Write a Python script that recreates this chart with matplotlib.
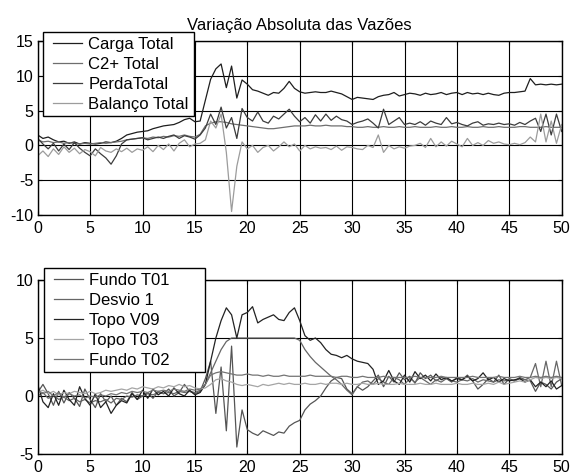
import numpy as np
import matplotlib
matplotlib.use("Agg")
import matplotlib.pyplot as plt
from matplotlib.legend_handler import HandlerLine2D
from matplotlib.lines import Line2D

plt.rcParams['font.family'] = ['Liberation Sans', 'DejaVu Sans']
plt.rcParams['axes.unicode_minus'] = False

# time axis (samples every 0.5)
t = np.arange(0, 50.5, 0.5)

# ---- top panel series ----
carga_total = [
    1.5, 1.0, 1.2, 0.8, 0.5, 0.6, 0.3, 0.5, 0.2, 0.4,
    0.3, 0.2, 0.3, 0.5, 0.4, 0.6, 1.0, 1.5, 1.7, 1.9,
    2.0, 2.1, 2.4, 2.6, 2.8, 2.9, 3.0, 3.3, 3.7, 3.9,
    3.4, 3.5, 6.5, 9.5, 11.0, 11.7, 8.3, 11.4, 6.8, 9.4,
    8.8, 8.0, 7.8, 7.5, 7.2, 7.6, 7.5, 8.2, 9.2, 8.2,
    7.7, 7.5, 7.6, 7.7, 7.6, 7.6, 7.8, 7.6, 7.4, 7.0,
    6.6, 6.9, 6.8, 6.7, 6.6, 7.0, 7.2, 7.3, 7.6, 7.1,
    7.3, 7.5, 7.4, 7.2, 7.5, 7.3, 7.4, 7.6, 7.3, 7.5,
    7.6, 7.3, 7.6, 7.4, 7.5, 7.3, 7.5, 7.3, 7.2, 7.5,
    7.6, 7.6, 7.7, 7.8, 9.6, 8.7, 8.8, 8.7, 8.8, 8.7,
    8.8]
c2_total = [
    0.8, 0.5, 0.6, 0.4, 0.5, 0.3, 0.4, 0.3, 0.2, 0.3,
    0.2, 0.3, 0.4, 0.3, 0.4, 0.5, 0.6, 0.8, 0.9, 1.0,
    1.1, 1.0, 1.2, 1.1, 1.3, 1.2, 1.4, 1.3, 1.5, 1.3,
    1.2, 1.6, 2.8, 3.2, 3.4, 3.4, 3.3, 3.1, 3.0, 2.9,
    2.8, 2.7, 2.6, 2.5, 2.4, 2.4, 2.5, 2.6, 2.7, 2.8,
    2.8, 2.8, 2.9, 2.8, 2.8, 2.9, 2.8, 2.8, 2.8, 2.7,
    2.7, 2.6, 2.6, 2.7, 2.6, 2.6, 2.7, 2.6, 2.6, 2.7,
    2.6, 2.6, 2.7, 2.6, 2.6, 2.6, 2.7, 2.6, 2.6, 2.7,
    2.6, 2.6, 2.7, 2.6, 2.6, 2.7, 2.6, 2.6, 2.7, 2.6,
    2.6, 2.6, 2.7, 2.7, 2.6, 2.6, 2.6, 2.7, 2.6, 2.6,
    2.6]
perda_total = [
    1.0, 0.2, -0.5, 0.3, -0.8, 0.2, -0.6, 0.4, -0.4, -1.0,
    -1.5, -0.5, -1.2, -1.8, -2.7, -1.5, 0.2, 0.8, 0.9, 1.0,
    1.1, 0.8, 1.0, 1.2, 1.0, 1.3, 1.5, 1.0, 1.4, 1.2,
    0.9, 1.5, 2.5, 4.5, 3.0, 5.5, 2.5, 4.0, 1.0, 5.3,
    4.0, 3.5, 4.8, 3.5, 3.2, 4.2, 3.8, 4.5, 5.2, 4.2,
    3.4, 4.0, 3.2, 4.4, 3.5, 4.5, 3.6, 4.2, 3.7, 3.5,
    3.0, 3.3, 3.5, 3.8, 3.2, 2.5, 5.2, 3.0, 3.5, 4.0,
    3.0, 3.2, 3.0, 3.4, 2.9, 3.5, 3.2, 3.0, 4.0, 3.1,
    3.3, 3.0, 2.8, 3.2, 3.4, 2.9, 3.1, 3.0, 3.2, 3.0,
    3.1, 2.9, 3.3, 3.0, 3.5, 3.9, 2.0, 4.5, 1.5, 4.5,
    2.0]
balanco_total = [
    -1.5, -0.8, -1.6, -0.5, -1.3, -0.2, -1.0, -0.4, -1.2, -0.6,
    -0.9, -1.5, -0.3, -0.8, -1.0, -0.5, -0.9, -0.4, -1.0, -0.5,
    -0.7, -0.2, -0.9, 0.0, -0.6, 0.2, -0.8, 0.3, 0.8, -0.2,
    0.2, 0.3, 0.8, 3.5, 2.5, 4.5, -1.0, -9.5, -3.0, 0.5,
    -0.5, 0.0, -1.0, -0.3, 0.0, -0.8, -0.2, 0.5, -0.2, 0.2,
    -0.8, 0.0, -0.5, -0.2, -0.4, -0.3, -0.6, -0.1, -0.7, -0.2,
    -0.3, -0.5, -0.6, 0.0, -0.3, 1.5, -1.0, 0.0, -0.5, -0.2,
    -0.4, -0.1, 0.0, 0.3, -0.3, 1.0, -0.2, 0.5, -0.1, 0.6,
    0.2, -0.2, 1.0, 0.0, 0.4, 0.0, 0.7, 0.3, 0.5, 0.2,
    0.1, 0.3, 0.1, 0.4, 1.2, 0.5, 4.5, 0.5, 3.5, 0.3,
    3.0]

# ---- bottom panel series ----
fundo_t01 = [
    0.3, 1.0, 0.2, -0.8, 0.4, -0.6, 0.3, -0.2, -0.9, 0.6,
    -0.3, -1.0, 0.2, -0.5, 0.0, -0.8, -0.2, -0.5, 0.3, -0.3,
    0.0, 0.3, -0.2, 0.4, 0.2, 0.6, 0.0, 0.3, 1.0, 0.4,
    0.2, 0.4, 1.5, 3.0, -1.5, 2.5, -3.0, 4.3, -4.4, -1.2,
    -2.9, -3.2, -3.4, -3.0, -3.2, -3.4, -3.1, -3.2, -2.6, -2.3,
    -2.1, -1.2, -0.7, -0.4, 0.0, 0.7, 1.3, 1.6, 1.5, 0.6,
    0.2, 0.8, 0.5, 0.8, 1.3, 1.8, 0.8, 1.7, 1.2, 2.0,
    1.4, 1.7, 1.1, 2.0, 1.5, 1.8, 1.3, 1.6, 1.5, 1.2,
    1.6, 1.4, 1.8, 1.3, 0.6, 1.0, 1.5, 1.2, 1.8, 1.0,
    1.5, 1.3, 1.6, 1.4, 1.3, 0.4, 1.2, 1.0, 0.6, 1.2,
    1.5]
desvio_1 = [
    0.0, 0.3, -0.2, 0.1, -0.3, -0.1, -0.4, -0.2, -0.5, -0.3,
    -0.6, -0.4, -0.5, -0.3, -0.6, -0.2, -0.3, 0.0, -0.1, 0.1,
    0.0, 0.2, 0.1, 0.3, 0.2, 0.3, 0.2, 0.4, 0.3, 0.4,
    0.3, 0.5, 1.0, 2.0, 3.0, 4.0, 4.7, 5.0, 5.0, 5.0,
    5.0, 5.0, 5.0, 5.0, 5.0, 5.0, 5.0, 5.0, 5.0, 5.0,
    4.8, 4.0, 3.4, 2.9, 2.5, 2.1, 1.7, 1.4, 1.0, 0.5,
    0.1, 0.8, 1.2, 1.3, 1.0, 1.5, 1.2, 1.0, 1.6, 1.4,
    1.0, 1.5, 1.2, 1.6, 1.3, 1.0, 1.4, 1.2, 1.5, 1.3,
    1.2, 1.4, 1.3, 1.5, 1.2, 1.4, 1.3, 1.2, 1.4, 1.3,
    1.4, 1.3, 1.5, 1.4, 1.6, 2.8, 0.8, 3.0, 0.8, 3.0,
    0.9]
topo_v09 = [
    1.0, -0.5, -1.0, 0.2, -0.8, 0.5, -0.3, -0.8, 0.8, -0.2,
    -0.8, 0.2, -1.0, -0.5, -1.5, -0.8, -0.4, -0.6, 0.2, -0.3,
    0.5, -0.2, 0.6, 0.1, 0.4, 0.0, 0.7, 0.2, 0.0, 0.5,
    0.1, 0.3, 1.0, 3.0, 5.0, 6.5, 7.6, 7.0, 5.0, 7.0,
    7.2, 7.7, 6.3, 6.6, 6.8, 7.0, 6.6, 6.5, 7.2, 7.6,
    6.5, 5.2, 4.8, 5.0, 4.6, 4.0, 3.6, 3.5, 3.3, 3.5,
    3.2, 3.0, 2.9, 2.8, 2.3, 1.0, 1.3, 2.2, 1.3, 1.0,
    1.8, 1.2, 2.1, 1.5, 1.8, 1.3, 1.9, 1.4, 1.6, 1.3,
    1.5, 1.4, 1.7, 1.3, 1.5, 2.0, 1.4, 1.6, 1.2, 1.5,
    1.3, 1.4, 1.5, 1.2, 1.4, 0.8, 1.2, 0.8, 1.3, 0.6,
    0.9]
topo_t03 = [
    0.3, 0.5, 0.2, 0.4, 0.1, 0.3, 0.2, 0.4, 0.3, 0.2,
    0.4, 0.2, 0.3, 0.5, 0.4, 0.5, 0.6, 0.5, 0.7, 0.6,
    0.8, 0.7, 0.6, 0.8, 0.7, 0.9, 0.8, 1.0, 0.8, 0.9,
    0.7, 0.6, 0.7, 1.0, 1.4, 1.5, 1.3, 1.2, 1.0, 0.9,
    1.0, 0.9, 0.8, 1.0, 0.9, 1.0, 1.1, 1.0, 1.1, 1.0,
    1.0, 1.1, 1.0, 1.0, 1.1, 1.0, 1.1, 1.1, 1.0, 1.1,
    1.0, 1.0, 1.1, 1.0, 1.0, 1.1, 1.0, 1.0, 1.0, 1.1,
    1.0, 1.0, 1.0, 1.1, 1.0, 1.0, 1.1, 1.0, 1.0, 1.0,
    1.1, 1.0, 1.0, 1.1, 1.0, 1.0, 1.1, 1.0, 1.2, 1.0,
    1.1, 1.2, 1.3, 1.2, 1.4, 1.6, 1.5, 1.6, 1.5, 1.6,
    1.5]
fundo_t02 = [
    0.5, 0.2, 0.4, 0.0, 0.3, -0.1, 0.2, 0.0, 0.1, -0.2,
    0.0, -0.1, 0.1, 0.0, 0.2, 0.1, 0.3, 0.2, 0.4, 0.3,
    0.4, 0.3, 0.5, 0.4, 0.5, 0.4, 0.6, 0.5, 0.4, 0.6,
    0.5, 0.6, 1.0, 1.8, 2.0, 2.1, 2.0, 1.9, 1.8, 1.8,
    1.9, 1.8, 1.8, 1.7, 1.8, 1.7, 1.7, 1.8, 1.7, 1.7,
    1.7, 1.7, 1.8, 1.7, 1.7, 1.7, 1.7, 1.6, 1.7, 1.7,
    1.6, 1.6, 1.7, 1.6, 1.6, 1.6, 1.7, 1.6, 1.6, 1.6,
    1.6, 1.6, 1.7, 1.6, 1.6, 1.6, 1.6, 1.7, 1.6, 1.6,
    1.6, 1.6, 1.6, 1.7, 1.6, 1.6, 1.6, 1.6, 1.7, 1.6,
    1.6, 1.6, 1.7, 1.6, 1.6, 1.7, 1.6, 1.7, 1.6, 1.7,
    1.6]

top_labels = ["Carga Total", "C2+ Total", "PerdaTotal", "Balanço Total"]
top_series = [carga_total, c2_total, perda_total, balanco_total]
top_colors = ["#1e1e1e", "#6e6e6e", "#3c3c3c", "#9c9c9c"]

bot_labels = ["Fundo T01", "Desvio 1", "Topo V09", "Topo T03", "Fundo T02"]
bot_series = [fundo_t01, desvio_1, topo_v09, topo_t03, fundo_t02]
bot_colors = ["#555555", "#666666", "#222222", "#a5a5a5", "#747474"]

title = "Variação Absoluta das Vazões"
xticks = [0, 5, 10, 15, 20, 25, 30, 35, 40, 45, 50]
top_yticks = [-10, -5, 0, 5, 10, 15]
bot_yticks = [-5, 0, 5, 10]

W, H = 571, 475
fig = plt.figure(figsize=(W / 100, H / 100), dpi=100)

def px_axes(l, t_, r, b):
    return [l / W, 1 - b / H, (r - l) / W, (b - t_) / H]

ax1 = fig.add_axes(px_axes(37.7, 41, 561.7, 215))
ax2 = fig.add_axes(px_axes(37.7, 280, 561.7, 454))

def style(ax, yticks):
    ax.set_xlim(0, 50)
    ax.set_ylim(yticks[0], yticks[-1])
    ax.set_xticks(xticks)
    ax.set_yticks(yticks)
    ax.grid(True, color="black", linewidth=0.8, linestyle="-")
    ax.set_axisbelow(True)
    for s in ax.spines.values():
        s.set_linewidth(1.0)
        s.set_color("black")
    ax.tick_params(direction="in", length=3, labelsize=11.5, pad=3,
                   top=True, right=True, colors="black")
    ax.tick_params(axis="x", pad=4)

for ys, lab, c in zip(top_series, top_labels, top_colors):
    ax1.plot(t, ys, color=c, linewidth=0.9, label=lab)
style(ax1, top_yticks)
ax1.set_title(title, fontsize=12, pad=8)

for ys, lab, c in zip(bot_series, bot_labels, bot_colors):
    ax2.plot(t, ys, color=c, linewidth=0.9, label=lab)
style(ax2, bot_yticks)

FS = 12
leg_kw = dict(loc="upper left", bbox_transform=fig.transFigure, fontsize=FS,
              mode="expand", frameon=True, fancybox=False, framealpha=1,
              edgecolor="black", borderaxespad=0, handlelength=2.05,
              handletextpad=0.38, labelspacing=0.3, borderpad=0.28,
              handler_map={Line2D: HandlerLine2D(xpad=0.3)})
l1 = ax1.legend(bbox_to_anchor=(43 / W, 1 - 113 / H, 151 / W, 81 / H), **leg_kw)
l1.get_frame().set_linewidth(1.0)
l2 = ax2.legend(bbox_to_anchor=(44 / W, 1 - 368 / H, 161 / W, 100 / H), **leg_kw)
l2.get_frame().set_linewidth(1.0)

fig.savefig("out.png", dpi=100)
